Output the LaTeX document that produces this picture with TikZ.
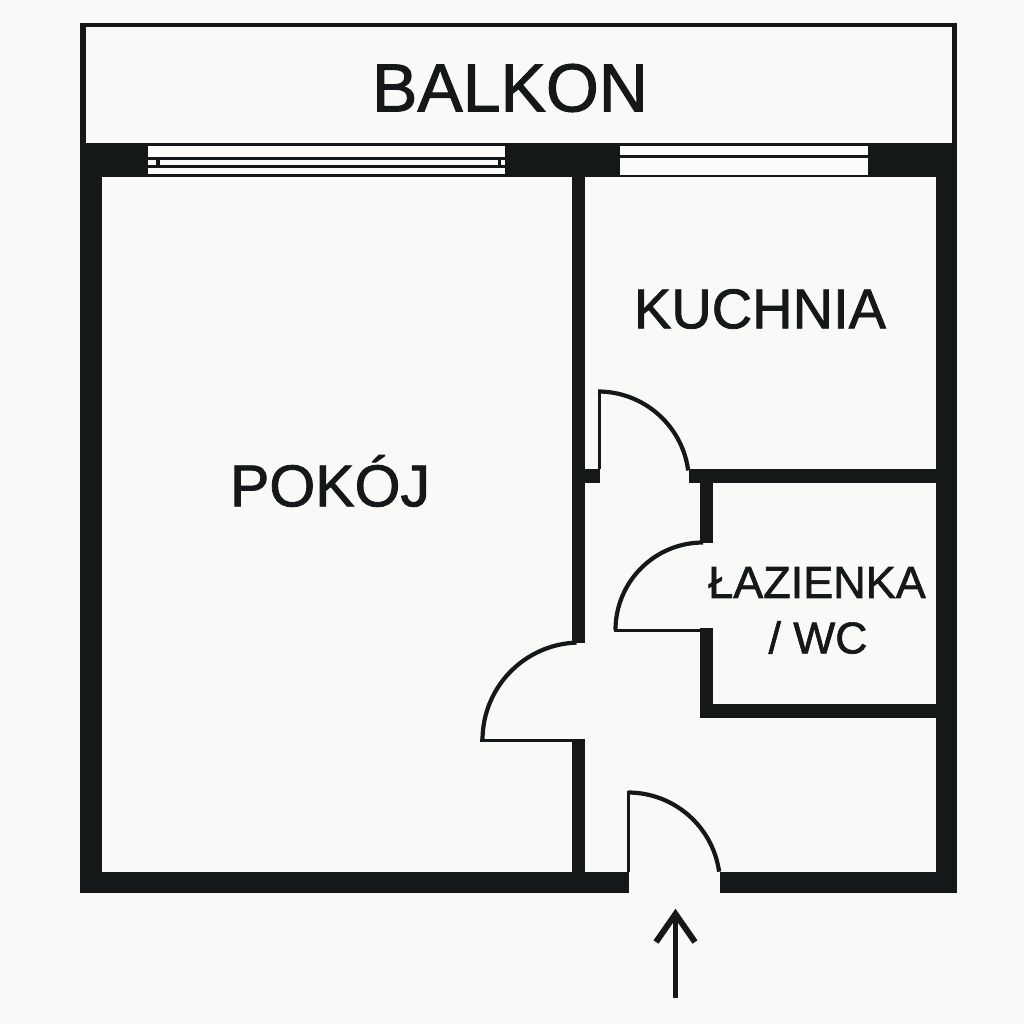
\documentclass[tikz,border=0pt]{standalone}
\usepackage{fontspec}
\setmainfont[FakeBold=1.4]{Liberation Sans}
\definecolor{ink}{HTML}{141818}
\definecolor{paper}{HTML}{F9F9F8}
\definecolor{glass}{HTML}{FBFBFA}
\tikzset{
  wall/.style={fill=ink,draw=none},
  glasspane/.style={fill=glass,draw=none},
  swing/.style={draw=ink,line width=4.2pt,line cap=butt},
  balconyline/.style={draw=ink,line width=4pt},
  label/.style={text=ink,inner sep=0pt,align=center},
}
\begin{document}
\begin{tikzpicture}[x=1pt,y=1pt,yscale=-1]
\useasboundingbox (0,0) rectangle (1024,1024);
\fill[paper] (0,0) rectangle (1024,1024);
% balcony
\draw[balconyline,fill=paper] (83,25) rectangle (954,145);
\fill[wall] (80,23) rectangle (86,145);
\fill[wall] (952,23) rectangle (957,145);
% outer walls
\fill[wall] (80,143) rectangle (102,893);
\fill[wall] (936,143) rectangle (957,893);
\fill[wall] (80,143) rectangle (148,177);
\fill[wall] (505,143) rectangle (620,177);
\fill[wall] (868,143) rectangle (957,177);
\fill[wall] (80,872) rectangle (629,893);
\fill[wall] (720,872) rectangle (957,893);
% window 1
\fill[glasspane] (148,146) rectangle (505,174);
\fill[wall] (148,143) rectangle (505,146);
\fill[wall] (148,157) rectangle (505,160);
\fill[wall] (148,165) rectangle (505,168);
\fill[wall] (148,174) rectangle (505,177);
\fill[wall] (156,160) rectangle (160,165);
\fill[wall] (498,160) rectangle (501,165);
% window 2
\fill[glasspane] (620,146) rectangle (868,175);
\fill[wall] (620,143) rectangle (868,146);
\fill[wall] (620,155) rectangle (868,158);
\fill[wall] (620,175) rectangle (868,177);
% inner walls
\fill[wall] (571.5,177) rectangle (585,643);
\fill[wall] (571.5,739) rectangle (585,872);
\fill[wall] (585,469) rectangle (600,483);
\fill[wall] (689,469) rectangle (936,483);
\fill[wall] (700,483) rectangle (713,543);
\fill[wall] (700,628) rectangle (713,718);
\fill[wall] (700,704) rectangle (936,718);
% door leaves
\fill[wall] (597.5,390) rectangle (600.5,469);
\fill[wall] (614,628.5) rectangle (700,631.5);
\fill[wall] (480,738.5) rectangle (571.5,741.5);
\fill[wall] (627,791) rectangle (630,872);
% door arcs
\draw[swing] (598,391.5) arc (270:352.4:91);
\draw[swing] (615.5,630) arc (180:270:87.5);
\draw[swing] (482.5,740) arc (180:268:97.5);
\draw[swing] (628,792.5) arc (270:352:92);
% labels
\node[label,font=\fontsize{68}{68}\selectfont] (balkon) at (510,88) {BALKON};
\node[label,font=\fontsize{56}{56}\selectfont] (kuchnia) at (760,309) {KUCHNIA};
\node[label,font=\fontsize{59}{59}\selectfont] (pokoj) at (330,481) {POKÓJ};
\node[label,font=\fontsize{45}{45}\selectfont] (lazienka) at (817,582.5) {ŁAZIENKA};
\node[label,font=\fontsize{44.5}{44.5}\selectfont] (wc) at (818,637.5) {/ WC};
% entrance arrow
\coordinate (arrowtail) at (675.5,998);
\coordinate (arrowtip) at (675.5,914);
\coordinate (barbl) at (656,942);
\coordinate (barbr) at (695,942);
\draw[draw=ink,line width=5pt] (arrowtail) -- (arrowtip);
\draw[draw=ink,line width=6pt,miter limit=10] (barbl) -- (arrowtip) -- (barbr);
\end{tikzpicture}
\end{document}
